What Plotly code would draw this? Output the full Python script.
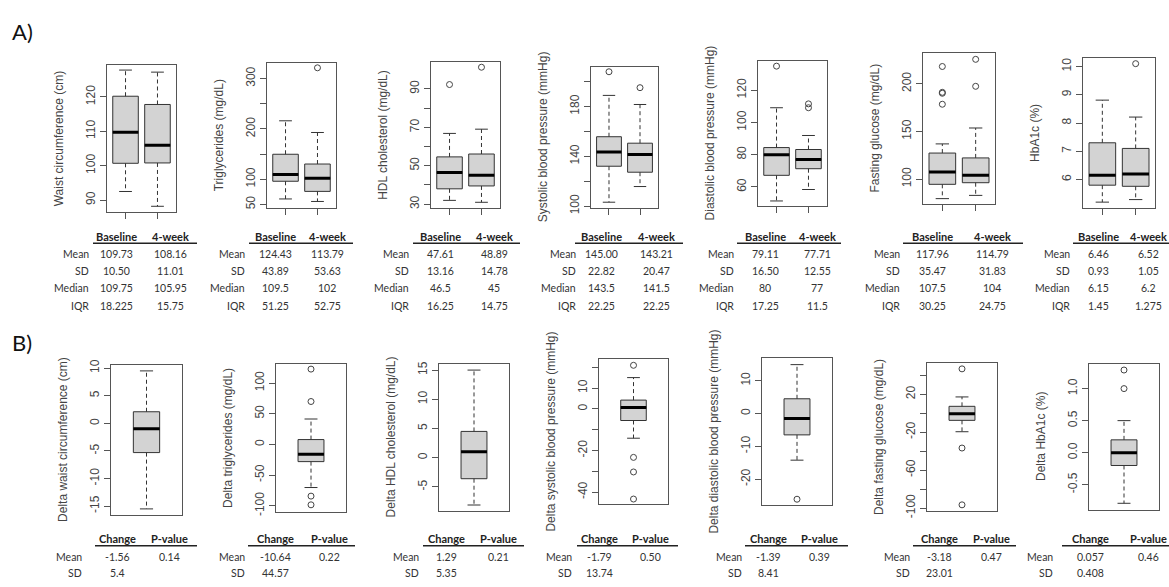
import plotly.graph_objects as go

W, H = 1169, 587

# ---------------- data ----------------
groups = ["Baseline", "4-week"]
top_titles = ["Waist circumference (cm)", "Triglycerides (mg/dL)", "HDL cholesterol (mg/dL)",
              "Systolic blood pressure (mmHg)", "Diastolic blood pressure (mmHg)",
              "Fasting glucose (mg/dL)", "HbA1c (%)"]
# [lower whisker, Q1, median, Q3, upper whisker]
base_box = [
    [92.5, 100.7, 109.75, 120.2, 127.8],
    [61.0, 96.1, 109.5, 149.7, 216.1],
    [32.0, 38.0, 46.5, 54.6, 66.8],
    [103.1, 132.0, 143.5, 155.7, 188.9],
    [51.3, 67.2, 80.0, 84.4, 109.1],
    [79.5, 94.5, 107.5, 127.3, 136.9],
    [5.20, 5.80, 6.15, 7.30, 8.81],
]
week4_box = [
    [88.2, 100.8, 105.95, 117.8, 127.2],
    [56.0, 76.0, 102.0, 130.3, 192.9],
    [31.0, 39.5, 45.0, 56.1, 69.0],
    [115.7, 127.2, 141.5, 150.5, 181.6],
    [58.4, 71.3, 77.0, 83.2, 91.9],
    [82.9, 96.2, 104.0, 122.2, 153.6],
    [5.29, 5.76, 6.2, 7.10, 8.21],
]
base_out = [[], [], [92.2], [207.9], [134.9], [178.5, 190.0, 191.0, 218.1], []]
week4_out = [[], [321.3], [101.2], [195.1], [109.1, 111.5], [197.3, 225.6], [10.1]]

top_yrange = [[86.55, 129.4], [42.9, 331.6], [28.0, 104.1], [98.4, 212.1],
              [48.1, 138.3], [73.7, 232.4], [4.99, 10.31]]
top_tickvals = [[90, 100, 110, 120], [50, 100, 150, 200, 250, 300],
                [30, 40, 50, 60, 70, 80, 90], [100, 120, 140, 160, 180, 200],
                [60, 80, 100, 120], [100, 150, 200], [6, 7, 8, 9, 10]]
top_ticktext = [["90", "100", "110", "120"], ["50", "100", "", "200", "", "300"],
                ["30", "", "50", "", "70", "", "90"], ["100", "", "140", "", "180", ""],
                ["60", "80", "100", "120"], ["100", "150", "200"], ["6", "7", "8", "9", "10"]]

# summary table (top)
stat_rows = ["Mean", "SD", "Median", "IQR"]
base_mean = ["109.73", "124.43", "47.61", "145.00", "79.11", "117.96", "6.46"]
week4_mean = ["108.16", "113.79", "48.89", "143.21", "77.71", "114.79", "6.52"]
base_sd = ["10.50", "43.89", "13.16", "22.82", "16.50", "35.47", "0.93"]
week4_sd = ["11.01", "53.63", "14.78", "20.47", "12.55", "31.83", "1.05"]
base_median = ["109.75", "109.5", "46.5", "143.5", "80", "107.5", "6.15"]
week4_median = ["105.95", "102", "45", "141.5", "77", "104", "6.2"]
base_iqr = ["18.225", "51.25", "16.25", "22.25", "17.25", "30.25", "1.45"]
week4_iqr = ["15.75", "52.75", "14.75", "22.25", "11.5", "24.75", "1.275"]

# bottom row (change)
delta_titles = ["Delta waist circumference (cm)", "Delta triglycerides (mg/dL)",
                "Delta HDL cholesterol (mg/dL)", "Delta systolic blood pressure (mmHg)",
                "Delta diastolic blood pressure (mmHg)", "Delta fasting glucose (mg/dL)",
                "Delta HbA1c (%)"]
delta_box = [
    [-15.5, -5.3, -1.0, 2.1, 9.5],
    [-70.2, -28.0, -15.8, 7.9, 41.4],
    [-8.1, -3.6, 1.0, 4.5, 15.0],
    [-14.1, -5.6, 0.6, 4.2, 15.0],
    [-14.2, -6.5, -1.5, 4.5, 14.9],
    [-19.5, -7.5, -0.6, 7.3, 17.2],
    [-0.79, -0.2, 0.0, 0.2, 0.5],
]
delta_out = [[], [-98.4, -84.2, 69.9, 122.7], [], [-43.3, -30.3, -23.3, 20.9],
             [-26.1], [-96.6, -36.7, 46.8], [1.0, 1.29]]
delta_yrange = [[-16.53, 10.53], [-109.5, 130.6], [-9.07, 16.0], [-45.6, 23.75],
                [-27.8, 16.8], [-102.75, 52.7], [-0.89, 1.38]]
delta_tickvals = [[-15, -10, -5, 0, 5, 10], [-100, -50, 0, 50, 100], [-5, 0, 5, 10, 15],
                  [-40, -30, -20, -10, 0, 10, 20], [-20, -10, 0, 10],
                  [-100, -80, -60, -40, -20, 0, 20, 40], [-0.5, 0.0, 0.5, 1.0]]
delta_ticktext = [["-15", "-10", "-5", "0", "5", "10"], ["-100", "-50", "0", "50", "100"],
                  ["-5", "0", "5", "10", "15"], ["-40", "", "-20", "", "0", "10", ""],
                  ["-20", "-10", "0", "10"], ["-100", "", "-60", "", "-20", "", "20", ""],
                  ["-0.5", "0.0", "0.5", "1.0"]]
delta_cols = ["Change", "P-value"]
delta_mean = ["-1.56", "-10.64", "1.29", "-1.79", "-1.39", "-3.18", "0.057"]
delta_p = ["0.14", "0.22", "0.21", "0.50", "0.39", "0.47", "0.46"]
delta_sd = ["5.4", "44.57", "5.35", "13.74", "8.41", "23.01", "0.408"]

# ---------------- layout geometry (pixels) ----------------
top_boxes = [(107, 176, 60, 211), (267, 336, 58, 207), (431, 500, 57, 207), (591, 658, 62, 207),
             (758, 827, 56, 205), (923, 995, 48, 203), (1083, 1155, 53, 207)]
bot_boxes = [(111, 182, 368, 521), (276, 346, 367, 518), (439, 509, 367, 517), (599, 668, 362, 510),
             (762, 832, 361, 511), (927, 997, 366, 517), (1089, 1159, 367, 516)]
# label right edge, col1 center, col2 center, rule x0, rule x1
top_tab = [(91, 116, 170, 93, 197), (247, 275, 327, 249, 353), (411, 440, 494, 413, 520),
           (578, 601, 656, 575, 683), (736, 765, 817, 737, 841), (902, 932, 992, 903, 1023),
           (1072, 1098, 1148, 1073, 1169)]
bot_tab = [(84, 117, 169, 95, 197), (247, 275, 330, 248, 355), (421, 446, 498, 423, 524),
           (574, 599, 650, 577, 678), (744, 768, 820, 745, 848), (912, 940, 991, 913, 1016),
           (1055, 1090, 1148, 1062, 1169)]

AX = "Liberation Sans"
TB = "Lato"
TXT = "#444"
FRAME = "#555"


def fx(p):
    return p / W


def fy(p):
    return 1 - p / H


fig = go.Figure()
layout = {}
annotations = []
shapes = []


def draw_group(k, xc, stats, outs, bw, cap):
    xa, ya = f"x{k}", f"y{k}"
    lo, q1, med, q3, hi = stats
    fig.add_trace(go.Box(x=[xc], q1=[q1], median=[med], q3=[q3], lowerfence=[q1], upperfence=[q3],
                         width=bw, fillcolor="#d3d3d3", line=dict(color="#333", width=1),
                         whiskerwidth=0, boxpoints=False, xaxis=xa, yaxis=ya,
                         showlegend=False, hoverinfo="skip"))
    fig.add_trace(go.Scatter(x=[xc, xc, None, xc, xc], y=[q3, hi, None, q1, lo], mode="lines",
                             line=dict(color="#333", width=1, dash="4px,3px"),
                             xaxis=xa, yaxis=ya, showlegend=False, hoverinfo="skip"))
    fig.add_trace(go.Scatter(x=[xc - cap, xc + cap, None, xc - cap, xc + cap], y=[hi, hi, None, lo, lo],
                             mode="lines", line=dict(color="#333", width=1),
                             xaxis=xa, yaxis=ya, showlegend=False, hoverinfo="skip"))
    fig.add_trace(go.Scatter(x=[xc - bw / 2, xc + bw / 2], y=[med, med], mode="lines",
                             line=dict(color="black", width=3),
                             xaxis=xa, yaxis=ya, showlegend=False, hoverinfo="skip"))
    if outs:
        fig.add_trace(go.Scatter(x=[xc] * len(outs), y=outs, mode="markers",
                                 marker=dict(symbol="circle-open", size=6, color="#444",
                                             line=dict(width=1)),
                                 xaxis=xa, yaxis=ya, showlegend=False, hoverinfo="skip"))


def set_axes(k, box, yrange, tv, tt, xrange, xticks):
    l, r, t, b = box
    xs = "xaxis" if k == 1 else f"xaxis{k}"
    ys = "yaxis" if k == 1 else f"yaxis{k}"
    xd = dict(domain=[fx(l), fx(r)], anchor=f"y{k}", range=xrange, showgrid=False, zeroline=False,
              showline=True, mirror=True, linecolor=FRAME, linewidth=1, fixedrange=True)
    if xticks:
        xd.update(tickmode="array", tickvals=xticks, ticktext=[""] * len(xticks), ticks="outside",
                  ticklen=6, tickcolor=FRAME, tickwidth=1)
    else:
        xd.update(showticklabels=False, ticks="")
    layout[xs] = xd
    layout[ys] = dict(domain=[fy(b), fy(t)], anchor=f"x{k}", range=yrange, showgrid=False,
                      zeroline=False, showline=True, mirror=True, linecolor=FRAME, linewidth=1,
                      ticks="outside", ticklen=6, tickcolor=FRAME, tickwidth=1, tickangle=-90,
                      tickmode="array", tickvals=tv, ticktext=tt,
                      tickfont=dict(family=AX, size=12, color=TXT), fixedrange=True)


def ann(x, y, text, size=10.5, bold=False, xanchor="center", color="#333", angle=0, family=TB):
    annotations.append(dict(x=fx(x), y=fy(y), xref="paper", yref="paper", showarrow=False,
                            text=f"<b>{text}</b>" if bold else text, xanchor=xanchor,
                            yanchor="middle", textangle=angle,
                            font=dict(family=family, size=size, color=color)))


# ---- top row ----
for i in range(7):
    k = i + 1
    set_axes(k, top_boxes[i], top_yrange[i], top_tickvals[i], top_ticktext[i], [0.42, 2.58], [1, 2])
    draw_group(k, 1, base_box[i], base_out[i], 0.8, 0.2)
    draw_group(k, 2, week4_box[i], week4_out[i], 0.8, 0.2)
    l, r, t, b = top_boxes[i]
    ann(l - 48, (t + b) / 2, top_titles[i], size=12, color=TXT, angle=-90, family=AX)
    lr, c1, c2, x0, x1 = top_tab[i]
    ann(c1, 236, groups[0], size=11, bold=True, color="#222")
    ann(c2, 236, groups[1], size=11, bold=True, color="#222")
    shapes.append(dict(type="line", xref="paper", yref="paper", x0=fx(x0), x1=fx(x1), y0=fy(243),
                       y1=fy(243), line=dict(color="#222", width=1.5)))
    rows_y = [254, 271, 289, 307]
    vals = [(base_mean[i], week4_mean[i]), (base_sd[i], week4_sd[i]),
            (base_median[i], week4_median[i]), (base_iqr[i], week4_iqr[i])]
    for ry, name, (v1, v2) in zip(rows_y, stat_rows, vals):
        ann(lr, ry, name, xanchor="right")
        ann(c1, ry, v1)
        ann(c2, ry, v2)

# ---- bottom row ----
for i in range(7):
    k = i + 8
    set_axes(k, bot_boxes[i], delta_yrange[i], delta_tickvals[i], delta_ticktext[i], [0.46, 1.54], None)
    draw_group(k, 1, delta_box[i], delta_out[i], 0.4, 0.1)
    l, r, t, b = bot_boxes[i]
    ann(l - 48, (t + b) / 2, delta_titles[i], size=12, color=TXT, angle=-90, family=AX)
    lr, c1, c2, x0, x1 = bot_tab[i]
    ann(c1, 546, delta_cols[0], size=11, bold=True, color="#222")
    ann(c2, 546, delta_cols[1], size=11, bold=True, color="#222")
    shapes.append(dict(type="line", xref="paper", yref="paper", x0=fx(x0), x1=fx(x1), y0=fy(553),
                       y1=fy(553), line=dict(color="#222", width=1.5)))
    ann(lr, 564, stat_rows[0], xanchor="right")
    ann(c1, 564, delta_mean[i])
    ann(c2, 564, delta_p[i])
    ann(lr, 581, stat_rows[1], xanchor="right")
    ann(c1, 581, delta_sd[i])

# panel letters
ann(10, 26, "A)", size=22, xanchor="left", color="#111")
ann(10, 345, "B)", size=22, xanchor="left", color="#111")

fig.update_layout(width=W, height=H, autosize=False, margin=dict(l=0, r=0, t=0, b=0),
                  paper_bgcolor="white", plot_bgcolor="white", showlegend=False,
                  annotations=annotations, shapes=shapes, **layout)
fig.write_html("out.html", config={"displayModeBar": False},
               post_script="document.body.style.margin='0';document.body.style.overflow='hidden';")
